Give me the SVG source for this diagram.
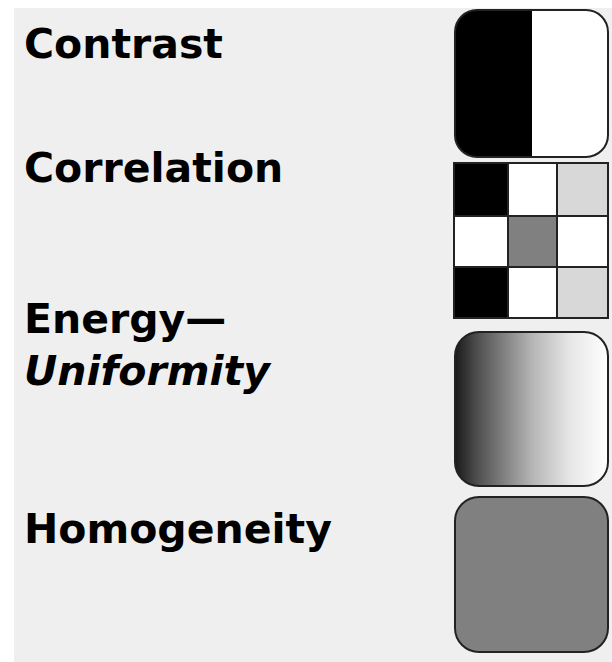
<svg xmlns="http://www.w3.org/2000/svg" width="612" height="662" viewBox="0 0 612 662">
<style>
.lbl{font-family:"DejaVu Sans",Verdana,sans-serif;font-weight:bold;font-size:41px;fill:#000}
.it{font-style:italic}
.box{stroke:#222;stroke-width:2}
.cell{stroke:#222;stroke-width:2}
</style>
<defs>
<linearGradient id="grad" x1="0" y1="0" x2="1" y2="0">
<stop offset="0" stop-color="#1a1a1a"/>
<stop offset="0.15" stop-color="#505050"/>
<stop offset="0.5" stop-color="#b4b4b4"/>
<stop offset="0.75" stop-color="#e6e6e6"/>
<stop offset="1" stop-color="#ffffff"/>
</linearGradient>
<clipPath id="cclip"><rect x="455" y="10" width="153" height="147" rx="22"/></clipPath>
</defs>
<rect width="612" height="662" fill="#ffffff"/>
<rect x="14" y="8" width="598" height="654" fill="#efefef"/>
<g id="contrast">
<text class="lbl" x="24" y="58">Contrast</text>
<g clip-path="url(#cclip)">
<rect x="455" y="10" width="77" height="147" fill="#000"/>
<rect x="532" y="10" width="76" height="147" fill="#fff"/>
</g>
<rect class="box" x="455" y="10" width="153" height="147" rx="22" fill="none"/>
</g>
<g id="correlation">
<text class="lbl" x="24" y="182">Correlation</text>
<rect class="cell" x="454" y="163" width="54" height="53" fill="#000"/>
<rect class="cell" x="508" y="163" width="49" height="53" fill="#fff"/>
<rect class="cell" x="557" y="163" width="51" height="53" fill="#d8d8d8"/>
<rect class="cell" x="454" y="216" width="54" height="51" fill="#fff"/>
<rect class="cell" x="508" y="216" width="49" height="51" fill="#808080"/>
<rect class="cell" x="557" y="216" width="51" height="51" fill="#fff"/>
<rect class="cell" x="454" y="267" width="54" height="51" fill="#000"/>
<rect class="cell" x="508" y="267" width="49" height="51" fill="#fff"/>
<rect class="cell" x="557" y="267" width="51" height="51" fill="#d8d8d8"/>
</g>
<g id="energy">
<text class="lbl" x="24" y="333">Energy—</text>
<text class="lbl it" x="24" y="385">Uniformity</text>
<rect class="box" x="455" y="332" width="153" height="154" rx="24" fill="url(#grad)"/>
</g>
<g id="homogeneity">
<text class="lbl" x="24" y="543">Homogeneity</text>
<rect class="box" x="455" y="497" width="153" height="155" rx="24" fill="#808080"/>
</g>
</svg>
